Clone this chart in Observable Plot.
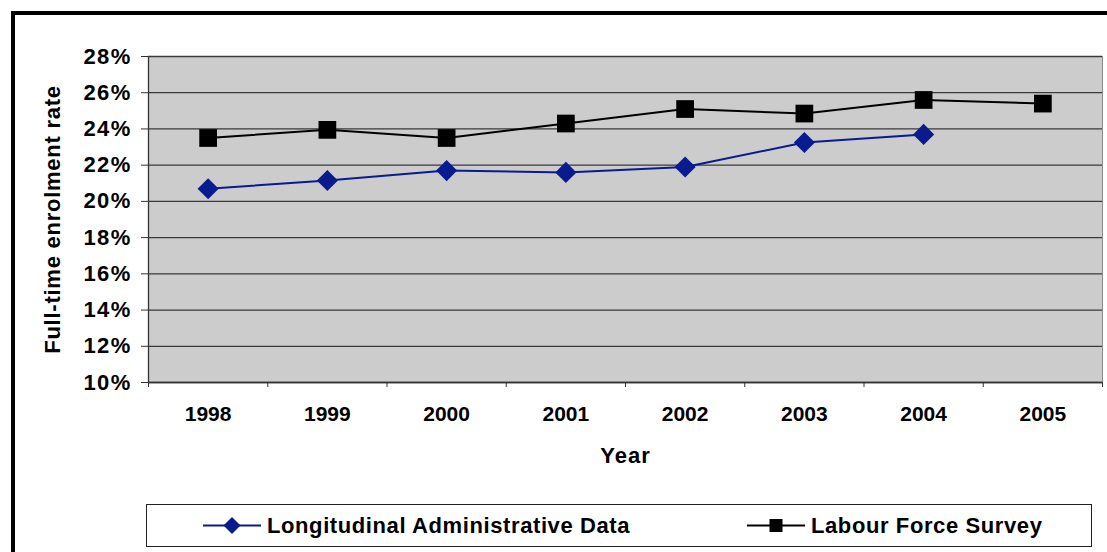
<!DOCTYPE html>
<html>
<head>
<meta charset="utf-8">
<script src="https://cdn.jsdelivr.net/npm/d3@7"></script>
<script src="https://cdn.jsdelivr.net/npm/@observablehq/plot@0.6"></script>
<style>
  html, body { margin: 0; padding: 0; background: #fff; overflow: hidden; }
  #page { position: relative; width: 1107px; height: 552px; overflow: hidden;
          font-family: Arial, "Liberation Sans", sans-serif; }
  #frame { position: absolute; left: 11px; top: 11px; width: 1200px; height: 700px;
           border: 4px solid #000; pointer-events: none; }
  #chart { position: absolute; left: 0; top: 0; }
  #legend { position: absolute; left: 146px; top: 504px; width: 946px; height: 43px;
            border: 1px solid #222; background: #fff; box-sizing: border-box; }
  .item { position: absolute; top: 0; height: 41px; display: flex; align-items: center;
          font-weight: bold; font-size: 22px; letter-spacing: 0.6px; color: #000; }
  .item svg { margin-right: 6px; }
</style>
</head>
<body>
<div id="page">
  <div id="chart"></div>
  <div id="legend"></div>
  <div id="frame"></div>
</div>
<script>
// Years on the x axis
const years = [1998, 1999, 2000, 2001, 2002, 2003, 2004, 2005];
// Full-time enrolment rate, Longitudinal Administrative Data (no 2005 value)
const ladYears = [1998, 1999, 2000, 2001, 2002, 2003, 2004];
const ladValues = [0.207, 0.2115, 0.217, 0.216, 0.219, 0.2325, 0.237];
// Full-time enrolment rate, Labour Force Survey
const lfsValues = [0.235, 0.2395, 0.235, 0.243, 0.251, 0.2485, 0.256, 0.254];
// Y axis ticks
const yTicks = [0.10, 0.12, 0.14, 0.16, 0.18, 0.20, 0.22, 0.24, 0.26, 0.28];

const seriesNames = ["Longitudinal Administrative Data", "Labour Force Survey"];
const blue = "#0A1A8F";

const lad = ladYears.map((y, i) => ({year: y, value: ladValues[i]}));
const lfs = years.map((y, i) => ({year: y, value: lfsValues[i]}));
// Category boundaries between the years
const bounds = [...years.map(y => y - 0.5), years[years.length - 1] + 0.5];

const font = "Arial, 'Liberation Sans', sans-serif";

const chart = Plot.plot({
  width: 1107,
  height: 490,
  marginLeft: 148,
  marginRight: 5,
  marginTop: 56,
  marginBottom: 108,
  style: {fontFamily: font, fontSize: "21px", fontWeight: "bold", color: "#000", background: "transparent"},
  x: {type: "linear", domain: [1997.5, 2005.5]},
  y: {domain: [0.10, 0.28]},
  marks: [
    Plot.frame({fill: "#CCCCCC", stroke: "#8a8a8a"}),
    Plot.gridY(yTicks, {stroke: "#3a3a3a", strokeOpacity: 1, strokeWidth: 1.3}),
    Plot.ruleX([1997.5], {stroke: "#333", strokeWidth: 1.3}),
    Plot.ruleY([0.10], {stroke: "#333", strokeWidth: 1.3}),
    Plot.axisY({ticks: yTicks, tickSize: 7, tickPadding: 10, tickFormat: d3.format(".0%"),
                fontSize: 22, stroke: "#333", label: "Full-time enrolment rate", labelAnchor: "center",
                labelArrow: "none", labelOffset: 104}),
    Plot.axisX({ticks: bounds, tickSize: 5, tickFormat: () => "", stroke: "#333", label: null}),
    Plot.axisX({ticks: years, tickSize: 0, tickPadding: 24, tickFormat: d => String(d),
                label: "Year", labelAnchor: "center", labelArrow: "none", labelOffset: 80}),
    Plot.line(lfs, {x: "year", y: "value", stroke: "#000", strokeWidth: 2}),
    Plot.line(lad, {x: "year", y: "value", stroke: blue, strokeWidth: 2}),
    Plot.dot(lfs, {x: "year", y: "value", symbol: "square", r: 10, fill: "#000", stroke: "none"}),
    Plot.dot(lad, {x: "year", y: "value", symbol: "diamond2", r: 9.5, fill: blue, stroke: "none"})
  ]
});

// Wider lettering for the axis titles and percentage labels
const svg = d3.select(chart);
svg.selectAll('[aria-label="y-axis tick label"] text').style("letter-spacing", "1.3px");
svg.selectAll('[aria-label="y-axis label"] text').style("font-size", "22px").style("letter-spacing", "0.75px");
svg.selectAll('[aria-label="x-axis label"] text').style("font-size", "22px").style("letter-spacing", "1px");
document.getElementById("chart").appendChild(chart);

// Legend
const legend = document.getElementById("legend");
const swatches = [
  {name: seriesNames[0], color: blue, left: 56, shape: "diamond"},
  {name: seriesNames[1], color: "#000", left: 600, shape: "square"}
];
for (const s of swatches) {
  const item = document.createElement("div");
  item.className = "item";
  item.style.left = s.left + "px";
  const marker = s.shape === "diamond"
    ? `<path d="M29,12 L37.5,20.5 L29,29 L20.5,20.5 Z" fill="${s.color}"/>`
    : `<rect x="22.5" y="14" width="13" height="13" fill="${s.color}"/>`;
  item.innerHTML = `<svg width="58" height="41" viewBox="0 0 58 41">
      <line x1="0" y1="20.5" x2="58" y2="20.5" stroke="${s.color}" stroke-width="2"/>${marker}</svg>
      <span>${s.name}</span>`;
  legend.appendChild(item);
}
</script>
</body>
</html>
